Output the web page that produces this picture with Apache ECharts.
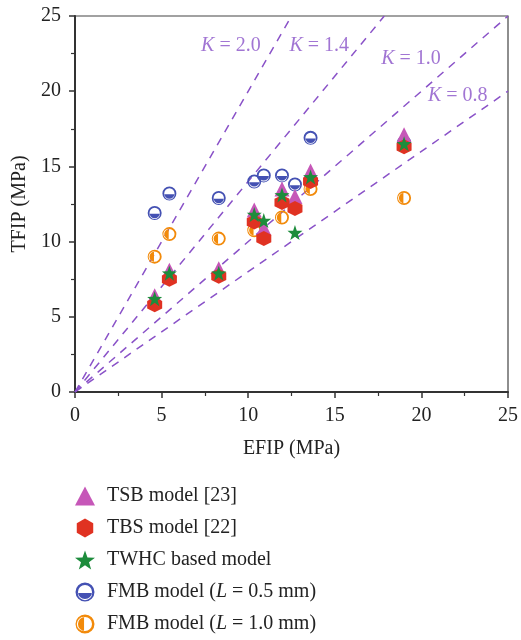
<!DOCTYPE html>
<html>
<head>
<meta charset="utf-8">
<script src="https://cdn.jsdelivr.net/npm/echarts@6/dist/echarts.min.js"></script>
<style>
html,body{margin:0;padding:0;background:#fff;}
#chart{width:521px;height:640px;}
</style>
</head>
<body>
<div id="chart"></div>
<script>
// ---- data ----
var efip  = [4.6, 5.45, 8.3, 10.35, 10.9, 11.95, 12.7, 13.6, 19.0];
var tsb   = [6.4, 8.1, 8.2, 12.1, 10.9, 13.5, 13.0, 14.7, 17.1];
var tbs   = [5.8, 7.5, 7.7, 11.3, 10.2, 12.6, 12.2, 14.0, 16.3];
var twhc  = [6.2, 7.9, 7.9, 11.8, 11.4, 13.1, 10.6, 14.3, 16.5];
var fmb05 = [11.9, 13.2, 12.9, 14.0, 14.4, 14.4, 13.8, 16.9, 16.6];
var fmb10 = [9.0, 10.5, 10.2, 10.75, null, 11.6, null, 13.5, 12.9];
var kValues = [2.0, 1.4, 1.0, 0.8];
var kLabels = ['2.0', '1.4', '1.0', '0.8'];
var axisTicks = [0, 5, 10, 15, 20, 25];
var seriesNames = ['TSB model [23]', 'TBS model [22]', 'TWHC based model',
                   'FMB model (L = 0.5 mm)', 'FMB model (L = 1.0 mm)'];

// label anchor positions (layout only)
var kLabelPos = [[9.0, 23.0], [14.1, 23.0], [19.4, 22.15], [22.1, 19.7]];

var FONT = '"Liberation Serif", "DejaVu Serif", serif';
var FS = 20;
var purple = '#8a52c8';

function pairs(ys) {
  var out = [];
  for (var i = 0; i < efip.length; i++) if (ys[i] != null) out.push([efip[i], ys[i]]);
  return out;
}

var hexPath = 'path://M0,-10 L8.66,-5 L8.66,5 L0,10 L-8.66,5 L-8.66,-5 Z';
var starPath = 'path://M0,-10 L2.351,-3.236 L9.511,-3.090 L3.804,1.236 L5.878,8.090 L0,4 L-5.878,8.090 L-3.804,1.236 L-9.511,-3.090 L-2.351,-3.236 Z';
var halfBottom = 'path://M0,-10 A10,10 0 1,1 0,10 A10,10 0 1,1 0,-10 Z M0,-7.4 A7.4,7.4 0 1,0 0,7.4 A7.4,7.4 0 1,0 0,-7.4 Z M-7.6,1 A7.6,7.6 0 0,0 7.6,1 Z';
var halfLeft = 'path://M0,-10 A10,10 0 1,1 0,10 A10,10 0 1,1 0,-10 Z M0,-7.4 A7.4,7.4 0 1,0 0,7.4 A7.4,7.4 0 1,0 0,-7.4 Z M-1,-7.6 A7.6,7.6 0 0,0 -1,7.6 Z';

var xMax = axisTicks[axisTicks.length - 1];
var series = [];

// K reference lines
kValues.forEach(function (k) {
  var xe = Math.min(xMax, xMax / k);
  series.push({
    type: 'line', data: [[0, 0], [xe, k * xe]], symbol: 'none', silent: true,
    lineStyle: { color: purple, width: 1.5, type: [8, 7] }, z: 1
  });
});
// K labels
series.push({
  type: 'scatter', symbolSize: 0, silent: true, z: 5,
  data: kLabelPos.map(function (p, i) {
    return { value: p, label: { formatter: '{i|K} = ' + kLabels[i] } };
  }),
  label: {
    show: true, position: 'inside', color: purple, fontFamily: FONT, fontSize: FS,
    rich: { i: { fontStyle: 'italic', fontFamily: FONT, fontSize: FS, color: purple } }
  }
});

var specs = [
  { name: seriesNames[3], data: fmb05, symbol: halfBottom, color: '#4451b3', size: 14 },
  { name: seriesNames[4], data: fmb10, symbol: halfLeft, color: '#f28a0a', size: 14 },
  { name: seriesNames[0], data: tsb, symbol: 'triangle', color: '#c657b8', size: 15 },
  { name: seriesNames[1], data: tbs, symbol: hexPath, color: '#e03222', size: 15 },
  { name: seriesNames[2], data: twhc, symbol: starPath, color: '#1d8c3c', size: 15 }
];
specs.forEach(function (s) {
  series.push({
    name: s.name, type: 'scatter', data: pairs(s.data), symbol: s.symbol,
    symbolSize: s.size, itemStyle: { color: s.color, opacity: 1 }, z: 3
  });
});

function axisCfg(margin) {
  return {
    type: 'value', min: 0, max: xMax, interval: 5,
    axisLine: { show: true, lineStyle: { color: '#333', width: 2 } },
    axisTick: { show: true, length: 6, inside: false, lineStyle: { color: '#333', width: 1.5 } },
    minorTick: { show: true, splitNumber: 2, length: 4, lineStyle: { color: '#333', width: 1.2 } },
    splitLine: { show: false },
    axisLabel: { color: '#222', fontFamily: FONT, fontSize: FS, margin: margin },
    nameLocation: 'middle',
    nameTextStyle: { color: '#222', fontFamily: FONT, fontSize: FS }
  };
}

var chart = echarts.init(document.getElementById('chart'), null, { renderer: 'canvas' });
chart.setOption({
  backgroundColor: '#fff',
  animation: false,
  grid: { left: 75, right: 11, top: 16, bottom: 248, show: true, borderColor: '#444', borderWidth: 1.2 },
  xAxis: Object.assign(axisCfg(14), { name: 'EFIP (MPa)', nameGap: 47 }),
  yAxis: Object.assign(axisCfg(14), { name: 'TFIP (MPa)', nameGap: 40 }),
  legend: {
    orient: 'vertical', left: 75, top: 486, bottom: 0, padding: 0,
    itemGap: 12, itemWidth: 20, itemHeight: 19,
    data: seriesNames,
    textStyle: {
      color: '#222', fontFamily: FONT, fontSize: FS, lineHeight: 19, padding: [0, 0, 0, 7],
      rich: { i: { fontStyle: 'italic', fontFamily: FONT, fontSize: FS, lineHeight: 19, color: '#222' } }
    },
    formatter: function (n) { return n.replace('(L ', '({i|L} '); }
  },
  series: series
});
</script>
</body>
</html>
